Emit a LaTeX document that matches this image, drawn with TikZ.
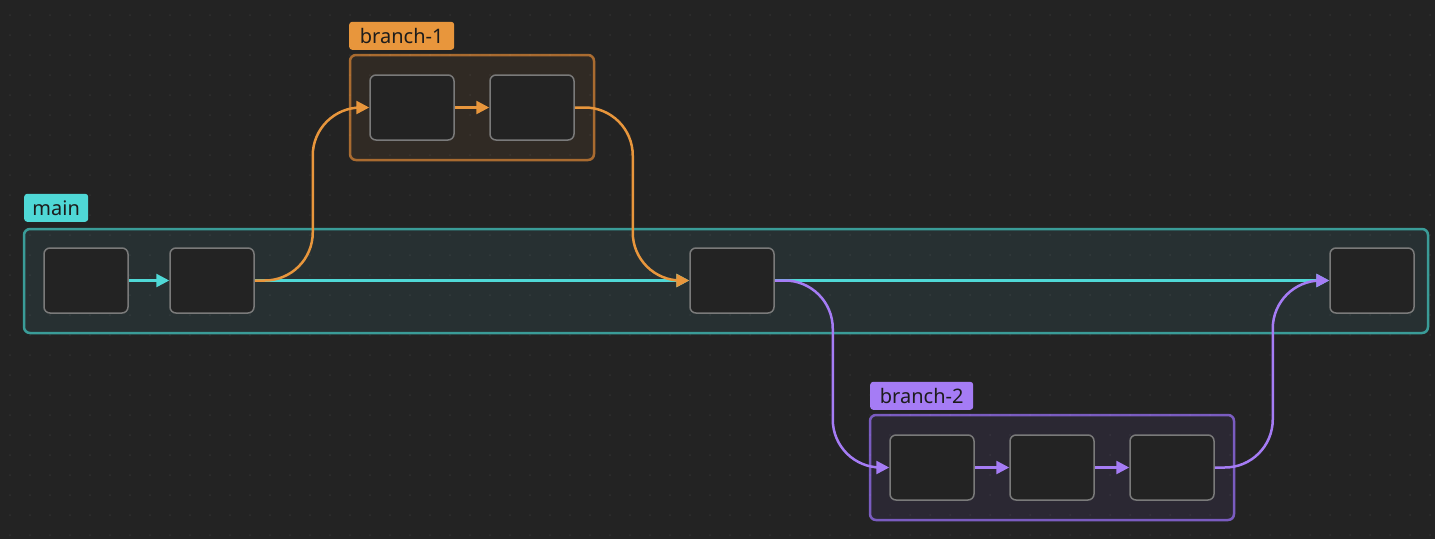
\documentclass[tikz,border=0pt]{standalone}
\usepackage{fontspec}
\setmainfont{Noto Sans}
\usetikzlibrary{arrows.meta}
\pgfdeclarelayer{background}
\pgfsetlayers{background,main}
\definecolor{bgcol}{HTML}{232323}
\definecolor{boxgray}{HTML}{7A7A7A}
\definecolor{labeltext}{HTML}{1C1C1C}
\definecolor{teal}{HTML}{4FD8D6}
\definecolor{tealdark}{HTML}{3A9C98}
\definecolor{tealfill}{HTML}{273032}
\definecolor{orange}{HTML}{E8963C}
\definecolor{orangedark}{HTML}{A96B30}
\definecolor{orangefill}{HTML}{302A24}
\definecolor{purple}{HTML}{A57CF5}
\definecolor{purpledark}{HTML}{7A5CC0}
\definecolor{purplefill}{HTML}{2B2833}
\tikzstyle{commit}=[draw=boxgray, fill=bgcol, line width=1.5pt,
    rounded corners=6pt, minimum width=84pt, minimum height=65pt, inner sep=0pt]
\tikzstyle{tag}=[rounded corners=3pt, inner sep=0pt, minimum height=28pt,
    anchor=south west, text=labeltext, font=\fontsize{20}{24}\selectfont]
\tikzstyle{lane}=[line width=2.5pt, rounded corners=6pt]
\tikzstyle{link}=[line width=2.5pt, -{Triangle[length=13pt,width=13pt]}]
\tikzstyle{hop}=[link, rounded corners=48pt]

\begin{document}
\begin{tikzpicture}[x=1pt,y=-1pt]
  % commits
  \node at (86,280.5) (m1)[commit] {};
  \node at (212,280.5) (m2)[commit] {};
  \node at (732,280.5) (m3)[commit] {};
  \node at (1372,280.5) (m4)[commit] {};
  \node at (412,107.5) (ba)[commit] {};
  \node at (532,107.5) (bb)[commit] {};
  \node at (932,467.5) (ca)[commit] {};
  \node at (1052,467.5) (cb)[commit] {};
  \node at (1172,467.5) (cc)[commit] {};

  % lane labels
  \node[tag, fill=teal, minimum width=64pt] at (24,222) (lmain) {main};
  \node[tag, fill=orange, minimum width=105pt] at (349,50) (lone) {branch-1};
  \node[tag, fill=purple, minimum width=103pt] at (870,410) (ltwo) {branch-2};

  % main line
  \draw[link, teal] (m1) -- (m2);
  \draw[link, teal] (m2) -- (m3);
  \draw[link, teal] (m3) -- (m4);

  % branch-1
  \draw[hop, orange] (m2.east) -| ([xshift=58pt]m2.east |- ba.west) -- (ba.west);
  \draw[link, orange] (ba) -- (bb);
  \draw[hop, orange] (bb.east) -| ([xshift=58pt]bb.east |- m3.west) -- (m3.west);

  % branch-2
  \draw[hop, purple] (m3.east) -| ([xshift=58pt]m3.east |- ca.west) -- (ca.west);
  \draw[link, purple] (ca) -- (cb);
  \draw[link, purple] (cb) -- (cc);
  \draw[hop, purple] (cc.east) -| ([xshift=58pt]cc.east |- m4.west) -- (m4.west);

  \begin{pgfonlayer}{background}
    \fill[bgcol] (0,0) rectangle (1435,539);
    \path[lane, draw=tealdark, fill=tealfill] (24,229) rectangle (1428,333);
    \path[lane, draw=orangedark, fill=orangefill] (350,55) rectangle (594,160);
    \path[lane, draw=purpledark, fill=purplefill] (870,415) rectangle (1234,520);
    \foreach \x in {10,30,...,1430}
      \foreach \y in {15,35,...,535}
        \fill[white, opacity=0.06] (\x,\y) circle (1pt);
  \end{pgfonlayer}
\end{tikzpicture}
\end{document}
